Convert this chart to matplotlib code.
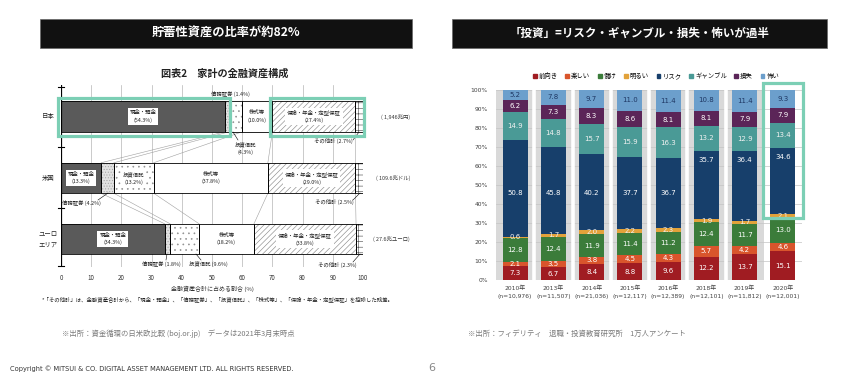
import matplotlib
matplotlib.use('Agg')
import matplotlib.pyplot as plt
from matplotlib.patches import Rectangle, Patch
import numpy as np

plt.rcParams['font.family'] = ['Noto Sans CJK JP', 'DejaVu Sans']
plt.rcParams['hatch.linewidth'] = 0.45

# ---------------- data: left chart ----------------
countries = ['日本', '米国', 'ユーロ\nエリア']
totals = ['( 1,946兆円)', '( 109.6兆ドル)', '( 27.6兆ユーロ)']
asset_names = ['現金・預金', '債務証券', '投資信託', '株式等', '保険・年金・定型保証', 'その他計']
japan = [54.3, 1.4, 4.3, 10.0, 27.4, 2.7]
usa = [13.3, 4.2, 13.2, 37.8, 29.0, 2.5]
euro = [34.3, 1.8, 9.6, 18.2, 33.8, 2.3]
x_ticks_left = [0, 10, 20, 30, 40, 50, 60, 70, 80, 90, 100]

# ---------------- data: right chart ----------------
years = ['2010年', '2013年', '2014年', '2015年', '2016年', '2018年', '2019年', '2020年']
samples = ['(n=10,976)', '(n=11,507)', '(n=21,036)', '(n=12,117)', '(n=12,389)',
           '(n=12,101)', '(n=11,812)', '(n=12,001)']
series_names = ['前向き', '楽しい', '儲け', '明るい', 'リスク', 'ギャンブル', '損失', '怖い']
maemuki = [7.3, 6.7, 8.4, 8.8, 9.6, 12.2, 13.7, 15.1]
tanoshii = [2.1, 3.5, 3.8, 4.5, 4.3, 5.7, 4.2, 4.6]
mouke = [12.8, 12.4, 11.9, 11.4, 11.2, 12.4, 11.7, 13.0]
akarui = [0.6, 1.7, 2.0, 2.2, 2.3, 1.9, 1.7, 2.1]
risk = [50.8, 45.8, 40.2, 37.7, 36.7, 35.7, 36.4, 34.6]
gamble = [14.9, 14.8, 15.7, 15.9, 16.3, 13.2, 12.9, 13.4]
sonshitsu = [6.2, 7.3, 8.3, 8.6, 8.1, 8.1, 7.9, 7.9]
kowai = [5.2, 7.8, 9.7, 11.0, 11.4, 10.8, 11.4, 9.3]
y_ticks_right = [0, 10, 20, 30, 40, 50, 60, 70, 80, 90, 100]

W, H = 843, 380
fig = plt.figure(figsize=(W / 100, H / 100), dpi=100)
fig.patch.set_facecolor('white')


def fx(px):
    return px / W


def fy(py):
    return 1 - py / H


MINT = '#7ccfb5'

# ---------------- banners ----------------
for (x0, x1, txt, fs) in [(40, 412, '貯蓄性資産の比率が約82%', 8.8),
                          (452, 827, '「投資」=リスク・ギャンブル・損失・怖いが過半', 8.3)]:
    fig.add_artist(Rectangle((fx(x0), fy(48)), (x1 - x0) / W, 29 / H, transform=fig.transFigure,
                             fc='#111111', ec='#666666', lw=0.5))
    fig.text(fx((x0 + x1) / 2), fy(33.5), txt, color='white', fontsize=fs, fontweight='bold',
             ha='center', va='center')

fig.text(fx(225), fy(74), '図表2　家計の金融資産構成', fontsize=7.3, fontweight='bold',
         ha='center', va='center', color='#222222')

# ---------------- left chart ----------------
axL = fig.add_axes([fx(61), fy(267), 302 / W, (267 - 85) / H])
axL.set_xlim(0, 100)
axL.set_ylim(267, 85)
for s in axL.spines.values():
    s.set_visible(False)
axL.set_yticks([])
axL.set_xticks(x_ticks_left)
axL.set_xticklabels([str(v) for v in x_ticks_left], fontsize=4.5, color='#333333')
axL.tick_params(axis='x', length=0, pad=5)
axL.set_xlabel('金融資産合計に占める割合 (%)', fontsize=4.3, labelpad=3, color='#333333')
for v in x_ticks_left[1:]:
    axL.axvline(v, color='#b5b5b5', lw=0.5, zorder=0)
axL.axvline(0, color='black', lw=1.6, zorder=4)
for yy in [87, 147, 208, 266]:
    axL.plot([-0.9, 0.9], [yy, yy], color='black', lw=0.8, clip_on=False, zorder=4)

styles = [dict(fc='#5a5a5a', hatch=None, hc='#5a5a5a'),
          dict(fc='#e2e2e2', hatch='......', hc='#a5a5a5'),
          dict(fc='white', hatch='...', hc='#909090'),
          dict(fc='white', hatch=None, hc='white'),
          dict(fc='white', hatch='//////', hc='#8c8c8c'),
          dict(fc='white', hatch='+++', hc='#555555')]

data_left = [japan, usa, euro]
ycent = [116.5, 178, 239]
bh = 30.5
cums = []
for ci, vals in enumerate(data_left):
    left = np.concatenate([[0], np.cumsum(vals)[:-1]])
    cums.append(np.cumsum(vals))
    for k, v in enumerate(vals):
        st = styles[k]
        axL.barh(ycent[ci], v, left=left[k], height=bh, color=st['fc'], edgecolor=st['hc'],
                 hatch=st['hatch'], lw=0, zorder=2)
        axL.barh(ycent[ci], v, left=left[k], height=bh, fill=False, edgecolor='black',
                 lw=0.6, zorder=3)

# connector lines between bars
for ci in range(2):
    for k in range(5):
        axL.plot([cums[ci][k], cums[ci + 1][k]], [ycent[ci] + bh / 2, ycent[ci + 1] - bh / 2],
                 color='#a0a0a0', lw=0.4, zorder=1)

inside = {0: [0, 3, 4], 1: [0, 2, 3, 4], 2: [0, 3, 4]}
for ci, vals in enumerate(data_left):
    left = np.concatenate([[0], np.cumsum(vals)[:-1]])
    for k in inside[ci]:
        axL.text(left[k] + vals[k] / 2, ycent[ci], f'{asset_names[k]}\n({vals[k]:.1f}%)',
                 ha='center', va='center', fontsize=3.9, linespacing=1.5, color='#222222', zorder=5,
                 bbox=dict(boxstyle='square,pad=0.35', fc='white', ec='none'))


def pxx(px):
    return (px - 61) / 3.02


outside = [(0, 1, (230, 94), None, False),
           (0, 2, (246, 148), ((238, 140), (233, 132)), True),
           (0, 5, (333, 141), ((353, 140), (359, 132)), False),
           (1, 1, (81, 203), ((98, 200), (108, 193)), False),
           (1, 5, (334, 202), ((353, 200), (360, 193)), False),
           (2, 1, (161, 264), ((166, 260), (167, 254)), False),
           (2, 2, (208, 264), ((201, 260), (196, 254)), False),
           (2, 5, (337, 265), ((353, 262), (360, 254)), False)]
for ci, k, (px, py), leader, two in outside:
    v = data_left[ci][k]
    sep = '\n' if two else ' '
    axL.text(pxx(px), py, f'{asset_names[k]}{sep}({v:.1f}%)', ha='center', va='center',
             fontsize=3.9, linespacing=1.5, color='#222222', zorder=5, clip_on=False)
    if leader:
        (a, b), (c, d) = leader
        axL.plot([pxx(a), pxx(c)], [b, d], color='black', lw=0.4, zorder=5, clip_on=False)

for ci, name in enumerate(countries):
    axL.text(pxx(48), ycent[ci], name, ha='center', va='center', fontsize=4.6, style='italic',
             color='#222222', clip_on=False, linespacing=1.4)
    axL.text(pxx(410), ycent[ci], totals[ci], ha='right', va='center', fontsize=3.9,
             color='#333333', clip_on=False)

axL.add_patch(Rectangle((pxx(58), 98), pxx(230) - pxx(58), 38, fill=False, ec=MINT, lw=2.3,
                        clip_on=False, zorder=6))
axL.add_patch(Rectangle((pxx(270), 98), pxx(364) - pxx(270), 38, fill=False, ec=MINT, lw=2.3,
                        clip_on=False, zorder=6))

fig.text(fx(42), fy(299), '*「その他計」は、金融資産合計から、「現金・預金」、「債務証券」、「投資信託」、「株式等」、「保険・年金・定型保証」を控除した残差。',
         fontsize=3.9, ha='left', va='center', color='#222222')
fig.text(fx(62), fy(334), '※出所：資金循環の日米欧比較 (boj.or.jp)　データは2021年3月末時点',
         fontsize=5.3, ha='left', va='center', color='#7a7a7a')

# ---------------- right chart ----------------
axR = fig.add_axes([fx(496), fy(280), 306 / W, 190 / H])
axR.set_xlim(-0.5, 7.5)
axR.set_ylim(0, 100)
for s in axR.spines.values():
    s.set_visible(False)
axR.axvspan(-0.5, 6.5, color='#d9d9d9', lw=0, zorder=0)
for yv in y_ticks_right:
    axR.axhline(yv, color='#c4c4c4', lw=0.5, zorder=0.6)
for b in np.arange(0.5, 6.5, 1):
    axR.axvline(b, color='white', lw=2.6, zorder=0.7)

colors = ['#a01c22', '#d9552c', '#3b7c3a', '#e2a23a', '#173f6b', '#4a9a96', '#5b2558', '#6c9fcc']
series = [maemuki, tanoshii, mouke, akarui, risk, gamble, sonshitsu, kowai]
xpos = np.arange(len(years))
bottom = np.zeros(len(years))
for si, vals in enumerate(series):
    vals = np.array(vals)
    axR.bar(xpos, vals, width=0.65, bottom=bottom, color=colors[si], lw=0, zorder=2)
    for i, v in enumerate(vals):
        yc = bottom[i] + v / 2
        if si == 4:
            yc = 46 if i < 5 else bottom[i] + v - 4.5
        tc = '#1f3864' if si == 7 else ('#f2f2f2' if si in (3, 5) else 'white')
        axR.text(i, yc, f'{v:.1f}', ha='center', va='center', fontsize=5, color=tc, zorder=3,
                 family=['DejaVu Sans'])
    bottom = bottom + vals

axR.set_yticks(y_ticks_right)
axR.set_yticklabels([f'{v}%' for v in y_ticks_right], fontsize=4.3, color='#404040',
                    family=['DejaVu Sans'])
axR.tick_params(axis='y', length=0, pad=6)
axR.set_xticks(xpos)
axR.set_xticklabels([f'{y}\n{n}' for y, n in zip(years, samples)], fontsize=4.3, color='#404040',
                    linespacing=1.7, family=['DejaVu Sans', 'Noto Sans CJK JP'])
axR.tick_params(axis='x', length=0, pad=4)

axR.add_patch(Rectangle((6.48, 32.6), 1.04, 71.1, fill=False, ec=MINT, lw=2.3, clip_on=False,
                        zorder=6))

handles = [Patch(color=c, label=n) for c, n in zip(colors, series_names)]
fig.legend(handles=handles, loc='center', bbox_to_anchor=(fx(656), fy(76)), ncol=8,
           fontsize=4.6, frameon=False, handlelength=0.6, handleheight=0.6, handletextpad=0.3,
           columnspacing=1.2)

fig.text(fx(468), fy(334), '※出所：フィデリティ　退職・投資教育研究所　1万人アンケート',
         fontsize=5.3, ha='left', va='center', color='#7a7a7a')

# ---------------- footer ----------------
fig.text(fx(10), fy(369), 'Copyright © MITSUI & CO. DIGITAL ASSET MANAGEMENT LTD. ALL RIGHTS RESERVED.',
         fontsize=4.8, ha='left', va='center', color='#333333', family=['DejaVu Sans'])
fig.text(fx(432), fy(368), '6', fontsize=8, ha='center', va='center', color='#888888',
         family=['DejaVu Sans'])

fig.savefig('out.png', dpi=100)
